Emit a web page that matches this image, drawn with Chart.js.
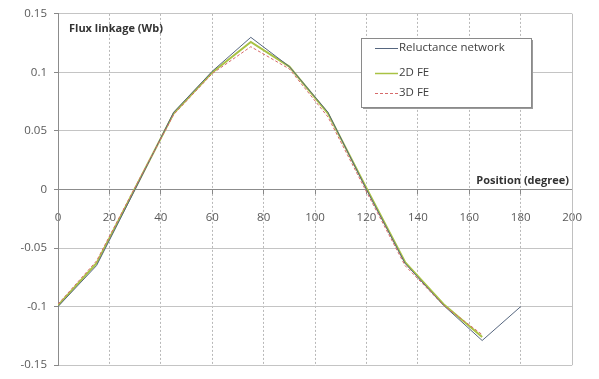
<!DOCTYPE html>
<html>
<head>
<meta charset="utf-8">
<script src="https://cdn.jsdelivr.net/npm/chart.js@4"></script>
<style>
  html, body { margin: 0; padding: 0; background: #fff; }
  #wrap { width: 599px; height: 379px; }
</style>
</head>
<body>
<div id="wrap"><canvas id="fluxChart"></canvas></div>
<script>
// ---- data ----
const positions = [0, 15, 30, 45, 60, 75, 90, 105, 120, 135, 150, 165, 180];
const reluctance = [-0.1, -0.065, 0.0, 0.066, 0.101, 0.13, 0.105, 0.066, 0.0, -0.063, -0.099, -0.129, -0.1];
const fe2d = [-0.099, -0.063, 0.001, 0.065, 0.1, 0.126, 0.105, 0.065, 0.001, -0.062, -0.098, -0.126, null];
const fe3d = [-0.098, -0.061, 0.002, 0.064, 0.099, 0.122, 0.103, 0.062, -0.002, -0.065, -0.099, -0.124, null];
const xTicks = [0, 20, 40, 60, 80, 100, 120, 140, 160, 180, 200];
const yTicks = [-0.15, -0.1, -0.05, 0, 0.05, 0.1, 0.15];

const seriesNames = ['Reluctance network', '2D FE', '3D FE'];
const seriesColors = ['#56667f', '#a9c244', '#d66a6a'];

const FONT = '"Open Sans", sans-serif';

function toPoints(ys) {
  return positions.map((x, i) => ({ x: x, y: ys[i] }));
}

// axis titles + legend box drawn inside the plot
const overlay = {
  id: 'overlay',
  afterDraw(chart) {
    const { ctx, chartArea } = chart;
    ctx.save();
    // right border of plot
    ctx.strokeStyle = '#c0c0c0';
    ctx.lineWidth = 1;
    ctx.beginPath();
    ctx.moveTo(Math.round(chartArea.right) + 0.5, chartArea.top);
    ctx.lineTo(Math.round(chartArea.right) + 0.5, chartArea.bottom);
    ctx.stroke();

    ctx.fillStyle = '#333';
    ctx.font = 'bold 11px ' + FONT;
    ctx.textBaseline = 'middle';
    ctx.textAlign = 'left';
    ctx.fillText('Flux linkage (Wb)', 69, 29);
    ctx.textAlign = 'right';
    ctx.fillText('Position (degree)', 569, 181);

    // legend
    const bx = 361, by = 38, bw = 170, bh = 69;
    ctx.fillStyle = '#9a9a9a';
    ctx.fillRect(bx + 2, by + 2, bw, bh);
    ctx.fillStyle = '#fff';
    ctx.fillRect(bx, by, bw, bh);
    ctx.strokeStyle = '#8a8a8a';
    ctx.strokeRect(bx + 0.5, by + 0.5, bw, bh);

    const rows = [48, 73, 93];
    ctx.font = '11.5px ' + FONT;
    ctx.textAlign = 'left';
    seriesNames.forEach((name, i) => {
      ctx.strokeStyle = seriesColors[i];
      ctx.lineWidth = i === 1 ? 1.5 : 1;
      ctx.setLineDash(i === 2 ? [3, 2] : []);
      ctx.beginPath();
      ctx.moveTo(375, rows[i] + 0.5);
      ctx.lineTo(398, rows[i] + 0.5);
      ctx.stroke();
      ctx.setLineDash([]);
      ctx.fillStyle = '#404040';
      ctx.fillText(name, 399, rows[i]);
    });
    ctx.restore();
  }
};

new Chart(document.getElementById('fluxChart'), {
  type: 'line',
  data: {
    datasets: [
      {
        label: seriesNames[0],
        data: toPoints(reluctance),
        borderColor: seriesColors[0],
        borderWidth: 1,
        order: 2
      },
      {
        label: seriesNames[1],
        data: toPoints(fe2d),
        borderColor: seriesColors[1],
        borderWidth: 2,
        order: 3
      },
      {
        label: seriesNames[2],
        data: toPoints(fe3d),
        borderColor: seriesColors[2],
        borderWidth: 1,
        borderDash: [3, 2],
        order: 1
      }
    ]
  },
  options: {
    responsive: true,
    maintainAspectRatio: false,
    animation: false,
    layout: { padding: { left: 0, right: 26, top: 13, bottom: 2 } },
    elements: {
      point: { radius: 0 },
      line: { tension: 0, fill: false }
    },
    plugins: {
      legend: { display: false },
      tooltip: { enabled: false }
    },
    scales: {
      x: {
        type: 'linear',
        position: { y: 0 },
        min: 0,
        max: 200,
        afterFit: scale => { scale.height = 0; },
        afterBuildTicks: scale => { scale.ticks = xTicks.map(v => ({ value: v })); },
        grid: {
          color: '#b8b8b8',
          lineWidth: 1,
          tickLength: 4,
          tickColor: '#888'
        },
        border: { display: true, color: '#8c8c8c', dash: [2, 2] },
        ticks: {
          padding: 17,
          maxRotation: 0,
          color: '#595959',
          font: { family: FONT, size: 11.5 },
          callback: v => String(v)
        }
      },
      y: {
        type: 'linear',
        min: -0.15,
        max: 0.15,
        afterFit: scale => { scale.width = 58; },
        afterBuildTicks: scale => { scale.ticks = yTicks.map(v => ({ value: v })); },
        grid: {
          color: '#c4c4c4',
          lineWidth: 1,
          tickLength: 4,
          tickColor: '#888'
        },
        border: { display: true, color: '#8c8c8c' },
        ticks: {
          padding: 7,
          color: '#595959',
          font: { family: FONT, size: 11.5 },
          callback: v => String(Math.round(v * 100) / 100)
        }
      }
    }
  },
  plugins: [overlay]
});
</script>
</body>
</html>
